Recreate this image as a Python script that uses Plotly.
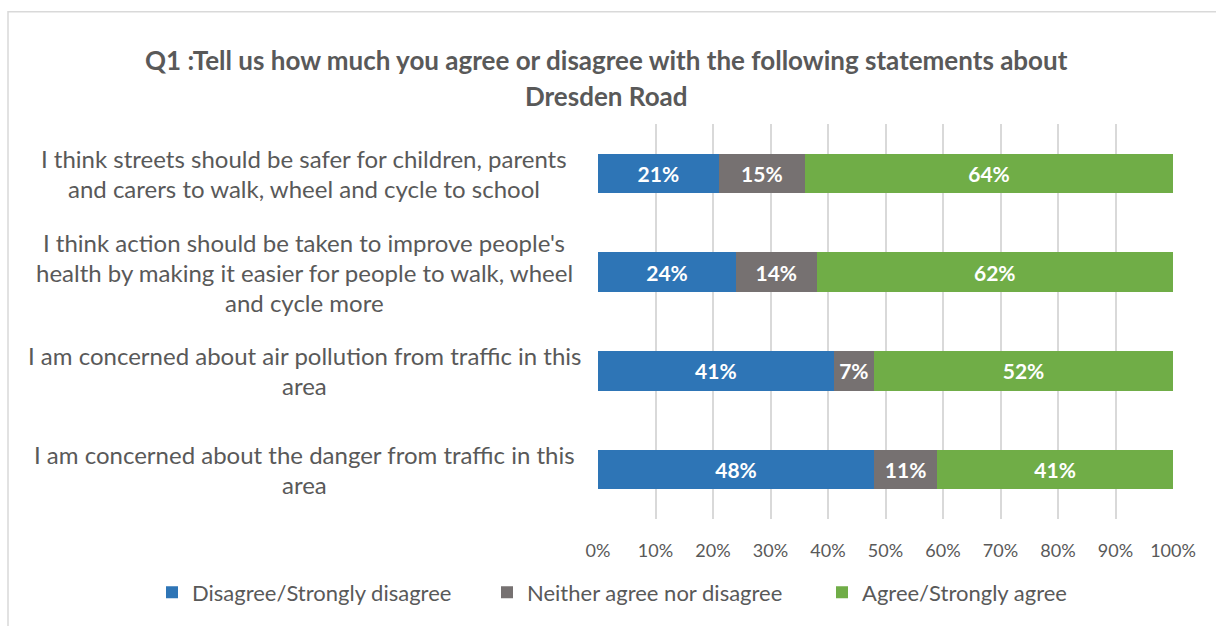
import plotly.graph_objects as go

# Survey statements (line breaks mark how each label wraps)
categories = [
    "I think streets should be safer for children, parents<br>and carers to walk, wheel and cycle to school",
    "I think action should be taken to improve people's<br>health by making it easier for people to walk, wheel<br>and cycle more",
    "I am concerned about air pollution from traffic in this<br>area",
    "I am concerned about the danger from traffic in this<br>area",
]

# Share of responses (%) per statement
disagree = [21, 24, 41, 48]
neutral = [15, 14, 7, 11]
agree = [64, 62, 52, 41]

series_names = ["Disagree/Strongly disagree", "Neither agree nor disagree", "Agree/Strongly agree"]
series_colors = ["#2E75B6", "#767171", "#70AD47"]
x_tick_values = [0, 10, 20, 30, 40, 50, 60, 70, 80, 90, 100]
x_tick_labels = ["0%", "10%", "20%", "30%", "40%", "50%", "60%", "70%", "80%", "90%", "100%"]

title_lines = [
    "Q1 :Tell us how much you agree or disagree with the following statements about",
    "Dresden Road",
]

FONT = "Lato"
TEXT_GREY = "#595959"
W, H = 1216, 626
ML, MR, MT, MB = 598, 43, 124, 104
PW, PH = W - ML - MR, H - MT - MB


def px_x(px):
    return (px - ML) / PW


def px_y(py):
    return (H - MB - py) / PH


fig = go.Figure()
for name, vals, col in zip(series_names, [disagree, neutral, agree], series_colors):
    fig.add_trace(go.Bar(
        y=categories,
        x=vals,
        name=name,
        orientation="h",
        marker=dict(color=col, line=dict(width=0)),
        texttemplate="%{x}%",
        textposition="inside",
        insidetextanchor="middle",
        textangle=0,
        textfont=dict(family=FONT, size=21, color="white", weight="bold"),
        hoverinfo="skip",
    ))

annotations = []
# Wrapped statement labels, centred block to the left of the bars
LINE_STEP = 30
for cat in categories:
    lines = cat.split("<br>")
    n = len(lines)
    for j, line in enumerate(lines):
        annotations.append(dict(
            x=px_x(304), xref="paper", y=cat, yref="y",
            yshift=((n - 1) / 2 - j) * LINE_STEP,
            text=line, showarrow=False, xanchor="center", yanchor="middle",
            font=dict(family=FONT, size=24, color=TEXT_GREY),
        ))

# Two-line chart title
for line, ypx in zip(title_lines, [60, 96]):
    annotations.append(dict(
        x=px_x(606), xref="paper", y=px_y(ypx), yref="paper",
        text=line, showarrow=False, xanchor="center", yanchor="middle",
        font=dict(family=FONT, size=26, color=TEXT_GREY, weight="bold"),
    ))

fig.update_layout(
    width=W, height=H,
    margin=dict(l=ML, r=MR, t=MT, b=MB, pad=0),
    barmode="stack",
    bargap=0.6,
    paper_bgcolor="white",
    plot_bgcolor="white",
    showlegend=True,
    legend=dict(
        orientation="h",
        x=px_x(152), xanchor="left",
        y=px_y(596), yanchor="middle",
        font=dict(family=FONT, size=22, color=TEXT_GREY),
        traceorder="normal",
        entrywidth=290,
    ),
    annotations=annotations,
    shapes=[dict(
        type="rect", xref="paper", yref="paper",
        x0=px_x(8), x1=px_x(1240), y0=px_y(650), y1=px_y(11),
        line=dict(color="#D9D9D9", width=1.5), fillcolor="rgba(0,0,0,0)",
        layer="below",
    )],
    xaxis=dict(
        range=[0, 100],
        tickvals=x_tick_values,
        ticktext=x_tick_labels,
        showgrid=True, gridcolor="#D9D9D9", gridwidth=1.5,
        zeroline=False, showline=False,
        ticks="outside", ticklen=15, tickcolor="white",
        tickfont=dict(family=FONT, size=18, color=TEXT_GREY),
        fixedrange=True,
    ),
    yaxis=dict(
        autorange="reversed",
        showticklabels=False,
        showgrid=False, zeroline=False, showline=False,
        fixedrange=True,
    ),
)

fig.write_html("out.html")
